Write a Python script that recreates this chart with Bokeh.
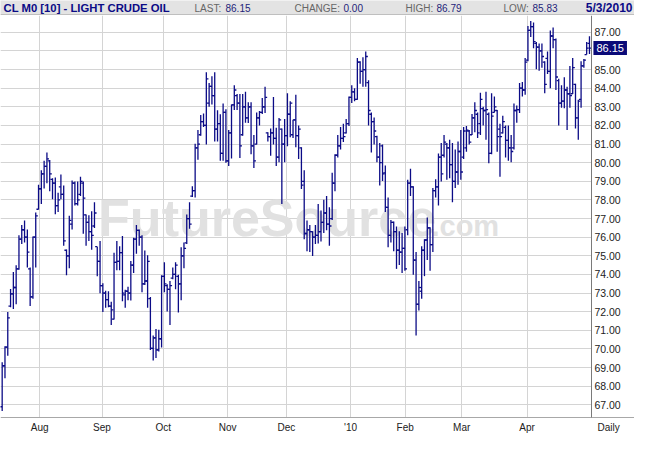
from bokeh.plotting import figure
from bokeh.models import (Range1d, FixedTicker, NumeralTickFormatter, Label,
                          ColumnDataSource, BoxAnnotation)
from bokeh.layouts import column
from bokeh.embed import file_html
from bokeh.resources import INLINE
from bokeh.core.properties import value
from bokeh.transform import dodge

# ---------------- data (daily OHLC, CL M0 light crude, Jul 2009 - 3 May 2010)
high = [69.29, 70.15, 71.98, 73.22, 74.13, 74.50, 76.11, 76.66, 76.90, 76.41,
        74.37, 76.04, 77.32, 78.82, 79.59, 80.11, 80.54, 80.14, 79.16, 79.21,
        78.39, 79.37, 78.78, 75.34, 77.15, 79.04, 78.99, 78.99, 79.25, 78.99,
        77.22, 77.18, 77.39, 77.87, 75.49, 75.80, 73.53, 73.13, 73.10, 72.53,
        75.17, 75.80, 75.51, 76.06, 73.18, 73.34, 74.72, 75.97, 76.66, 76.41,
        76.11, 75.29, 75.03, 72.79, 70.72, 71.07, 71.03, 73.96, 74.65, 73.48,
        73.65, 74.37, 74.65, 73.99, 75.46, 75.72, 77.22, 77.87, 78.73, 81.02,
        81.75, 82.56, 82.64, 84.85, 84.28, 84.64, 84.85, 82.81, 82.60, 83.18,
        82.87, 81.75, 83.12, 84.16, 83.69, 83.69, 83.69, 83.81, 83.24, 83.24,
        81.49, 82.69, 82.78, 83.47, 84.07, 81.63, 81.83, 83.52, 81.87, 82.40,
        81.83, 82.35, 83.73, 83.30, 82.31, 83.64, 82.00, 80.83, 79.59, 76.89,
        76.66, 76.32, 76.66, 77.78, 77.44, 78.01, 78.21, 77.61, 79.46, 80.45,
        81.49, 81.92, 82.09, 82.35, 83.55, 84.16, 83.99, 85.62, 85.45, 85.66,
        85.97, 84.42, 82.69, 82.43, 81.44, 81.06, 80.97, 79.85, 78.13, 76.92,
        76.84, 76.58, 76.32, 76.23, 76.58, 79.08, 79.68, 78.73, 75.20, 73.65,
        75.51, 75.89, 77.06, 76.53, 78.64, 79.11, 80.49, 81.06, 81.49, 81.06,
        81.23, 81.06, 80.71, 81.14, 81.75, 81.92, 81.97, 81.75, 82.61, 83.24,
        82.69, 83.76, 83.00, 83.81, 82.69, 83.73, 83.55, 82.83, 82.09, 82.52,
        82.00, 82.00, 81.49, 83.18, 83.07, 84.28, 84.33, 85.62, 87.34, 87.60,
        87.52, 86.48, 86.40, 86.40, 85.45, 85.97, 87.09, 87.26, 86.66, 84.50,
        84.16, 84.59, 84.07, 85.19, 85.62, 84.24, 83.38, 85.45, 85.57, 86.48,
        86.79]
low = [66.67, 68.43, 69.64, 72.24, 72.15, 72.40, 74.25, 75.63, 75.72, 74.37,
       72.31, 72.70, 74.37, 77.49, 77.78, 78.61, 78.90, 78.47, 78.04, 77.23,
       77.35, 78.04, 75.54, 73.96, 74.34, 76.41, 77.70, 77.70, 78.21, 76.18,
       75.54, 75.80, 75.32, 76.49, 73.91, 72.99, 71.98, 72.22, 72.24, 71.29,
       71.58, 74.22, 74.22, 72.56, 72.22, 72.62, 72.60, 74.08, 75.11, 75.54,
       73.05, 73.43, 72.22, 69.95, 69.38, 69.52, 69.86, 70.08, 73.05, 72.01,
       71.29, 73.74, 73.20, 71.96, 72.62, 74.34, 75.63, 76.46, 78.16, 78.13,
       80.16, 81.44, 81.92, 80.97, 83.00, 83.12, 81.14, 81.14, 80.10, 80.11,
       79.99, 79.82, 80.23, 82.83, 82.83, 80.25, 81.45, 82.14, 82.13, 80.45,
       79.71, 80.97, 82.00, 82.61, 82.66, 81.14, 80.37, 80.97, 79.82, 80.02,
       77.78, 80.02, 80.88, 81.37, 81.32, 80.83, 80.20, 78.59, 75.89, 75.25,
       75.20, 74.99, 75.63, 75.66, 75.77, 76.23, 76.37, 75.54, 76.92, 78.47,
       80.28, 80.71, 81.11, 81.57, 81.97, 83.21, 83.30, 83.38, 84.24, 84.07,
       84.07, 82.00, 80.54, 80.97, 80.02, 78.77, 79.02, 77.35, 75.46, 75.72,
       75.25, 74.30, 74.51, 74.08, 74.20, 76.11, 78.21, 73.99, 70.72, 72.06,
       72.70, 73.91, 74.77, 74.20, 75.20, 78.13, 77.70, 78.99, 80.28, 79.08,
       79.16, 77.87, 78.64, 78.82, 79.08, 80.20, 80.59, 80.97, 81.49, 81.63,
       81.32, 81.49, 82.00, 81.23, 79.97, 80.45, 82.69, 80.59, 79.25, 81.57,
       80.28, 80.11, 80.02, 80.71, 82.14, 82.66, 83.55, 83.64, 85.45, 86.74,
       86.14, 85.02, 84.93, 85.10, 83.73, 84.76, 83.99, 86.14, 83.90, 82.00,
       82.95, 82.92, 81.75, 82.95, 83.69, 81.83, 81.23, 82.95, 85.10, 85.80,
       85.83]
open_ = [66.90, 69.10, 70.10, 72.30, 72.96, 73.30, 74.30, 75.90, 76.40, 76.00,
         74.30, 72.80, 76.00, 77.50, 78.60, 79.40, 79.80, 80.10, 79.10, 78.90,
         77.70, 78.70, 78.30, 75.30, 75.00, 76.70, 78.90, 77.80, 78.30, 78.90,
         77.20, 76.80, 76.30, 76.60, 75.49, 74.70, 73.40, 73.00, 72.65, 72.30,
         71.60, 74.65, 74.70, 75.17, 72.90, 73.10, 73.00, 74.50, 75.90, 76.37,
         76.00, 73.50, 73.65, 72.70, 70.03, 70.60, 69.95, 70.55, 73.90, 73.40,
         73.20, 73.80, 74.00, 73.90, 73.50, 75.00, 75.70, 77.00, 78.20, 78.50,
         80.80, 81.50, 82.20, 82.00, 83.20, 84.10, 83.60, 81.80, 82.10, 80.50,
         82.70, 80.10, 81.60, 83.10, 83.60, 83.20, 81.50, 83.00, 82.40, 83.00,
         80.90, 81.00, 82.40, 82.70, 83.00, 81.60, 81.40, 81.60, 81.30, 80.30,
         81.80, 81.00, 81.45, 82.60, 81.50, 82.30, 81.45, 80.80, 79.00, 76.20,
         76.40, 76.30, 76.00, 76.10, 76.30, 76.80, 77.30, 76.70, 77.00, 78.90,
         80.40, 80.90, 81.30, 81.60, 82.10, 83.50, 83.80, 83.40, 85.40, 84.90,
         85.00, 84.30, 82.60, 82.20, 81.40, 80.30, 80.90, 79.45, 77.60, 76.10,
         76.80, 76.30, 75.30, 75.20, 75.40, 76.40, 78.90, 78.70, 74.77, 72.40,
         73.10, 75.30, 75.85, 76.50, 75.60, 78.50, 78.70, 80.30, 80.40, 81.00,
         80.80, 79.90, 79.00, 79.50, 80.60, 80.30, 80.80, 81.70, 81.50, 82.40,
         82.60, 82.10, 82.90, 82.80, 82.60, 80.50, 82.70, 82.80, 81.80, 81.60,
         81.90, 81.20, 80.80, 80.80, 82.80, 82.85, 84.00, 83.90, 85.50, 87.10,
         87.30, 86.40, 86.20, 86.00, 85.40, 85.60, 84.90, 86.80, 86.60, 84.40,
         83.20, 83.30, 83.90, 83.70, 83.70, 84.20, 82.40, 83.40, 85.20, 85.80,
         86.40]
close = [69.10, 70.10, 71.67, 72.96, 73.30, 74.30, 75.90, 76.40, 76.00, 75.20,
         72.80, 76.00, 77.15, 78.60, 79.40, 79.80, 80.20, 79.40, 78.90, 77.70,
         78.00, 78.30, 75.80, 75.00, 76.90, 78.90, 77.80, 78.00, 79.00, 78.10,
         76.80, 76.30, 76.10, 77.30, 74.70, 73.40, 73.00, 72.65, 72.30, 72.10,
         74.65, 74.70, 75.17, 73.00, 73.10, 73.00, 74.50, 75.90, 76.37, 76.00,
         73.50, 73.65, 74.70, 70.03, 70.60, 69.95, 70.55, 73.90, 73.50, 73.20,
         73.40, 74.00, 74.50, 73.50, 75.00, 75.40, 77.00, 76.70, 78.50, 80.80,
         81.00, 82.20, 82.00, 84.50, 84.10, 83.60, 81.80, 82.10, 80.50, 82.70,
         80.10, 81.60, 83.10, 83.90, 83.20, 80.90, 83.00, 82.40, 83.00, 80.90,
         80.10, 82.40, 82.70, 83.00, 83.50, 81.40, 81.60, 81.30, 80.30, 82.30,
         81.00, 81.45, 82.60, 83.20, 82.30, 81.45, 81.80, 78.80, 76.20, 76.40,
         76.30, 76.00, 76.10, 76.30, 76.80, 77.30, 76.70, 76.60, 78.90, 80.40,
         80.90, 81.30, 81.40, 82.10, 83.50, 83.80, 83.40, 85.40, 84.90, 85.00,
         85.70, 82.80, 82.20, 81.70, 80.30, 80.00, 79.40, 77.60, 76.10, 76.80,
         76.30, 75.30, 75.20, 75.40, 74.30, 78.90, 78.70, 74.77, 72.40, 73.30,
         75.30, 75.85, 76.50, 75.60, 78.50, 78.70, 80.30, 79.40, 81.10, 80.80,
         79.90, 79.00, 79.50, 80.60, 79.50, 81.70, 81.75, 81.10, 82.40, 82.80,
         81.60, 83.40, 82.80, 82.85, 80.50, 82.50, 83.00, 81.40, 81.40, 82.20,
         81.20, 80.80, 80.60, 82.80, 82.85, 84.00, 83.90, 85.40, 87.10, 87.30,
         86.50, 86.20, 86.00, 85.70, 84.20, 84.90, 86.80, 86.60, 84.60, 83.20,
         83.30, 83.90, 83.70, 83.60, 85.10, 82.40, 83.30, 85.20, 85.50, 86.15,
         86.15]
bar_index = list(range(len(high)))

# month boundaries (in trading-day index units) and their labels
month_pos = [13.4, 35.7, 57.6, 80.6, 101.6, 124.6, 144.1, 164.3, 187.7]
month_labels = ["Aug", "Sep", "Oct", "Nov", "Dec", "'10", "Feb", "Mar", "Apr"]
price_ticks = list(range(67, 88))

last_price = 86.15
hdr_title = "CL M0 [10] - LIGHT CRUDE OIL"
hdr_labels = ["LAST:", "CHANGE:", "HIGH:", "LOW:"]
hdr_values = ["86.15", "0.00", "86.79", "85.83"]
hdr_date = "5/3/2010"

# ---------------- styling
NAVY = "#0b0b86"
GRID = "#d4d4d4"
FONT = "Liberation Sans"
W = 634

# ---------------- header strip
hdr = figure(width=W, height=15, output_backend="svg", toolbar_location=None,
             x_range=Range1d(0, W), y_range=Range1d(0, 15),
             min_border=0, outline_line_color=None,
             background_fill_color="#e3e3e3", border_fill_color="#e3e3e3")
hdr.axis.visible = False
hdr.grid.visible = False
hdr.line(x=[0, W], y=[0.5, 0.5], line_color="#9a9a9a", line_width=1)
hdr.text(x=[3], y=[7.6], text=[hdr_title], text_font=value(FONT),
         text_font_style="bold", text_font_size="11.3px", text_color=NAVY,
         text_baseline="middle")
hdr.text(x=[194, 294, 405, 503], y=[7.5] * 4, text=hdr_labels, text_font=value(FONT),
         text_font_size="10px", text_color="#666666", text_baseline="middle")
hdr.text(x=[225, 343, 436, 532], y=[7.5] * 4, text=hdr_values, text_font=value(FONT),
         text_font_size="10px", text_color="#24247a", text_baseline="middle")
hdr.text(x=[632], y=[7.6], text=[hdr_date], text_font=value(FONT),
         text_font_style="bold", text_font_size="12px", text_color=NAVY,
         text_baseline="middle", text_align="right")

# ---------------- main chart (axes are pinned inside an enlarged frame so that
# the price marker and the "Daily" note can be drawn next to them)
src = ColumnDataSource(dict(x=bar_index, high=high, low=low, open=open_, close=close))

x_start, x_end, x_full = -0.6, 210.7, 226.1
y_start, y_end, y_full = 66.32, 87.9, 65.41
p = figure(width=W, height=419, output_backend="svg", toolbar_location=None,
           x_range=Range1d(x_start, x_full), y_range=Range1d(y_full, y_end),
           y_axis_location="right", min_border=0,
           outline_line_color=None, background_fill_color="white",
           border_fill_color="white")

p.xaxis.ticker = FixedTicker(ticks=month_pos)
p.xaxis.major_label_overrides = {m: l for m, l in zip(month_pos, month_labels)}
p.yaxis.ticker = FixedTicker(ticks=price_ticks)
p.yaxis.formatter = NumeralTickFormatter(format="0.00")
p.xaxis.fixed_location = y_start
p.yaxis.fixed_location = x_end
p.yaxis.bounds = (y_start, y_end)
for ax in (p.xaxis[0], p.yaxis[0]):
    ax.major_tick_line_color = None
    ax.minor_tick_line_color = None
    ax.major_tick_out = 0
    ax.major_tick_in = 0
    ax.minor_tick_out = 0
    ax.minor_tick_in = 0
    ax.major_label_text_font = FONT
    ax.major_label_text_color = "#222222"
p.xaxis.major_label_text_font_size = "10px"
p.yaxis.major_label_text_font_size = "10.5px"
p.xaxis.axis_line_color = "#a8a8a8"
p.yaxis.axis_line_color = "#7a7a7a"
p.xaxis.major_label_standoff = 4
p.yaxis.major_label_standoff = 3
p.xgrid.ticker = FixedTicker(ticks=month_pos)
p.ygrid.ticker = FixedTicker(ticks=price_ticks)
p.grid.grid_line_color = GRID
p.grid.grid_line_width = 1

# white masks so grid lines stop at the plotting area
p.add_layout(BoxAnnotation(left=x_end, level="underlay", fill_color="white",
                           fill_alpha=1, line_color=None))
p.add_layout(BoxAnnotation(top=y_start, level="underlay", fill_color="white",
                           fill_alpha=1, line_color=None))

# watermark
p.text(x=[34.3], y=[75.5], text=["FutureSource"], text_font=value(FONT),
       text_font_style="bold", text_font_size="52px", text_color="#e1e1e1",
       text_baseline="bottom")
p.text(x=[153.5], y=[75.75], text=[".com"], text_font=value(FONT),
       text_font_size="29px", text_color="#e1e1e1", text_font_style="bold",
       text_baseline="bottom")

# OHLC bars
p.segment(x0="x", y0="low", x1="x", y1="high", source=src, line_color=NAVY, line_width=1.3)
p.segment(x0=dodge("x", -0.75), y0="open", x1="x", y1="open", source=src,
          line_color=NAVY, line_width=1.3)
p.segment(x0="x", y0="close", x1=dodge("x", 0.75), y1="close", source=src,
          line_color=NAVY, line_width=1.3)

# last price marker on the axis
p.add_layout(Label(x=x_end, y=last_price, x_offset=2, text=f"{last_price:.2f}",
                   text_font=FONT, text_font_size="11px", text_color="white",
                   text_baseline="middle", background_fill_color="#0a0a78",
                   padding=3))
# periodicity label
p.add_layout(Label(x=x_end, y=y_start, x_offset=6, y_offset=-4, text="Daily",
                   text_font=FONT, text_font_size="10px", text_color="#222222",
                   text_baseline="top"))

layout = column(hdr, p, spacing=0)
open("out.html", "w").write(file_html(layout, INLINE))
